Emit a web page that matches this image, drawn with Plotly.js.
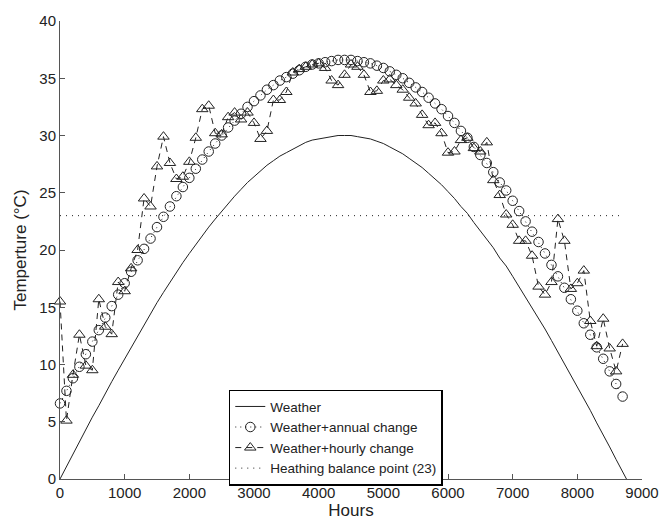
<!DOCTYPE html>
<html>
<head>
<meta charset="utf-8">
<script src="https://cdn.plot.ly/plotly-3.0.1.min.js"></script>
<style>html,body{margin:0;padding:0;background:#fff;}#chart{width:665px;height:525px;}</style>
</head>
<body>
<div id="chart"></div>
<script>
// Hours (sample points, every ~100 h)
const hours = [0,100,200,300,400,500,600,700,800,900,1000,1100,1200,1300,1400,1500,1600,1700,1800,1900,
2000,2100,2200,2300,2400,2500,2600,2700,2800,2900,3000,3100,3200,3300,3400,3500,3600,3700,3800,3900,
4000,4100,4200,4300,4400,4500,4600,4700,4800,4900,5000,5100,5200,5300,5400,5500,5600,5700,5800,5900,
6000,6100,6200,6300,6400,6500,6600,6700,6800,6900,7000,7100,7200,7300,7400,7500,7600,7700,7800,7900,
8000,8100,8200,8300,8400,8500,8600,8700];

const weatherHours = hours.concat([8760]);
const weather = [0.0,1.1,2.2,3.2,4.3,5.4,6.4,7.5,8.5,9.5,10.5,11.5,12.5,13.5,14.4,15.4,16.3,17.2,18.1,18.9,
19.7,20.5,21.3,22.0,22.7,23.4,24.1,24.7,25.3,25.9,26.4,26.9,27.4,27.8,28.2,28.5,28.8,29.1,29.4,29.6,
29.7,29.8,29.9,30.0,30.0,30.0,29.9,29.8,29.7,29.5,29.3,29.0,28.7,28.4,28.0,27.6,27.2,26.7,26.2,25.7,
25.1,24.5,23.8,23.2,22.4,21.7,21.0,20.2,19.3,18.6,17.7,16.8,15.9,15.0,14.1,13.1,12.1,11.1,10.1,9.1,
8.1,7.0,6.0,4.9,3.9,2.8,1.7,0.6,0.0];

const annual = [6.6,7.7,8.8,9.8,10.9,12.0,13.0,14.1,15.1,16.1,17.1,18.1,19.1,20.1,21.0,22.0,22.9,23.8,24.7,25.5,
26.3,27.1,27.9,28.6,29.3,30.0,30.7,31.3,31.9,32.5,33.0,33.5,34.0,34.4,34.8,35.1,35.4,35.7,36.0,36.2,
36.3,36.4,36.5,36.6,36.6,36.6,36.5,36.4,36.3,36.1,35.9,35.6,35.3,35.0,34.6,34.2,33.8,33.3,32.8,32.3,
31.7,31.1,30.4,29.8,29.0,28.3,27.6,26.8,25.9,25.2,24.3,23.4,22.5,21.6,20.7,19.7,18.7,17.7,16.7,15.7,
14.7,13.6,12.6,11.5,10.5,9.4,8.3,7.2];

const hourly = [15.5,5.1,9.1,12.6,9.9,9.5,15.7,13.3,12.65,17.2,16.4,18.4,20.0,24.5,23.8,27.3,29.9,27.6,26.2,26.4,
27.7,29.8,32.3,32.6,30.2,30.1,31.6,32.0,31.4,32.0,31.1,29.7,30.4,33.1,33.1,33.8,35.5,35.8,36.0,36.2,
36.3,35.9,34.8,34.4,35.3,36.2,36.0,35.3,33.8,33.9,34.8,34.9,34.4,34.0,33.3,32.8,31.8,30.9,31.1,30.2,
28.5,28.6,29.6,29.8,28.9,28.6,29.4,26.1,24.8,23.1,22.2,20.8,20.8,19.5,16.8,16.1,17.2,22.7,20.8,16.6,
17.1,18.2,13.8,11.6,14.0,11.4,9.4,11.8];

const balanceHours = [0, 8700];
const balance = [23, 23];

const seriesNames = ['Weather','Weather+annual change','Weather+hourly change','Heathing balance point (23)'];
const xTicks = [0,1000,2000,3000,4000,5000,6000,7000,8000,9000];
const yTicks = [0,5,10,15,20,25,30,35,40];

const ink = '#222';
const FONT = 'Liberation Sans, Arial, Helvetica, sans-serif';

const traces = [
  {x: weatherHours, y: weather, name: seriesNames[0], mode: 'lines',
   line: {color: ink, width: 1}},
  {x: hours, y: annual, name: seriesNames[1], mode: 'lines+markers', cliponaxis: false,
   line: {color: ink, width: 1, dash: '1px,4px'},
   marker: {symbol: 'circle-open', size: 9.5, color: ink, line: {width: 1, color: ink}}},
  {x: hours, y: hourly, name: seriesNames[2], mode: 'lines+markers', cliponaxis: false,
   line: {color: ink, width: 1, dash: '6px,5px'},
   marker: {symbol: 'triangle-up-open', size: 10, color: ink, line: {width: 1, color: ink}}},
  {x: balanceHours, y: balance, name: seriesNames[3], mode: 'lines',
   line: {color: ink, width: 1, dash: '1px,5px'}}
];

const layout = {
  width: 665, height: 525,
  margin: {l: 60, r: 23, t: 21, b: 46},
  paper_bgcolor: '#fff', plot_bgcolor: '#fff',
  font: {family: FONT, color: ink, size: 15},
  showlegend: true,
  legend: {x: 0.29, y: 0.195, xanchor: 'left', yanchor: 'top',
    bgcolor: '#fff', bordercolor: '#000', borderwidth: 1.5,
    font: {family: FONT, size: 13.5, color: ink}, tracegroupgap: 0},
  xaxis: {range: [0, 9000], tickvals: xTicks, ticktext: xTicks.map(String),
    showline: true, linecolor: '#555', linewidth: 1, ticks: 'inside', ticklen: 5, tickcolor: '#555',
    showgrid: false, zeroline: false, tickfont: {size: 15, color: ink},
    title: {text: 'Hours', font: {size: 17, color: ink}, standoff: 4}},
  yaxis: {range: [0, 40], tickvals: yTicks, ticktext: yTicks.map(String),
    showline: true, linecolor: '#555', linewidth: 1, ticks: 'inside', ticklen: 5, tickcolor: '#555',
    showgrid: false, zeroline: false, tickfont: {size: 15, color: ink},
    title: {text: 'Temperture (°C)', font: {size: 17, color: ink}, standoff: 8}}
};

Plotly.newPlot('chart', traces, layout, {displayModeBar: false, staticPlot: true});
</script>
</body>
</html>
